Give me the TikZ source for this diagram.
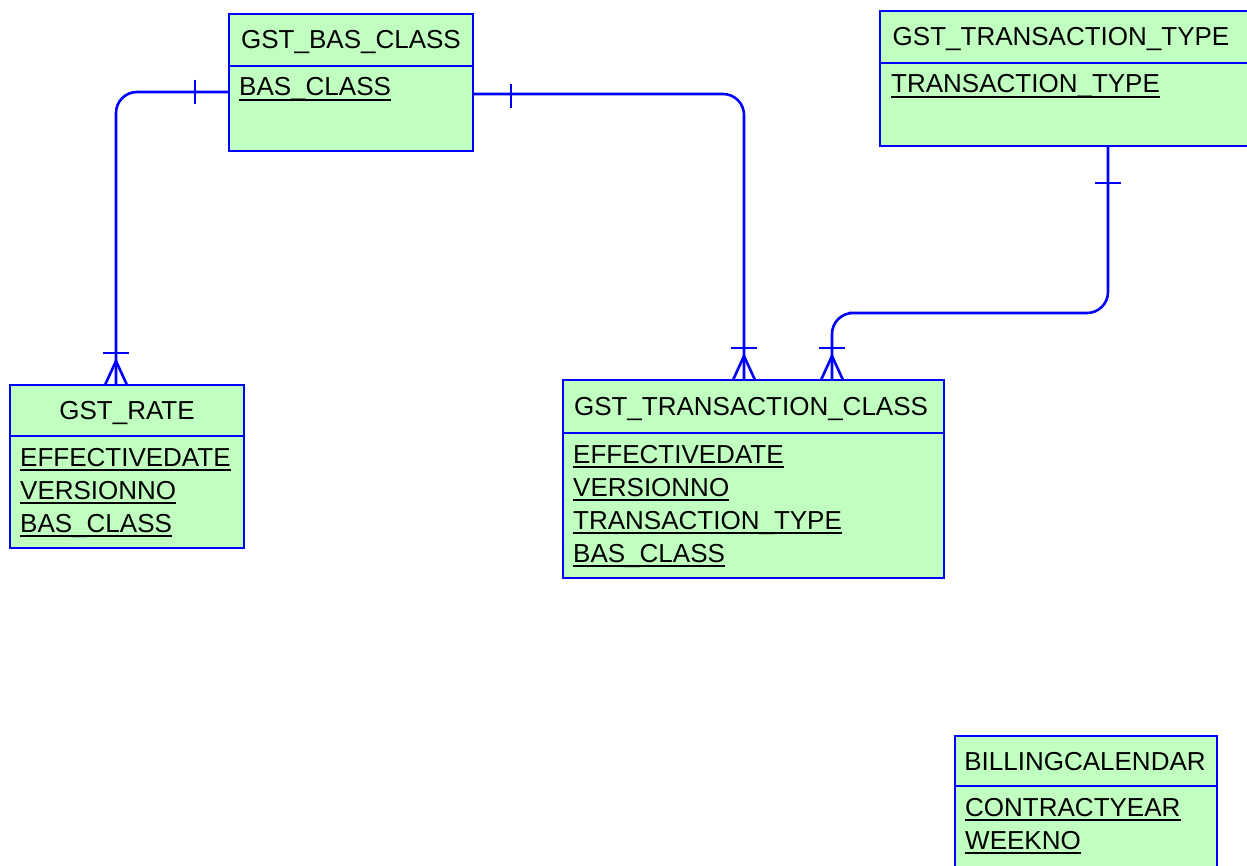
\documentclass[tikz,border=0pt]{standalone}
\usepackage{fontspec}
\setmainfont{Liberation Sans}
\usetikzlibrary{calc}
\definecolor{entfill}{HTML}{C0FFC0}
\definecolor{entblue}{HTML}{0000FF}
\tikzset{
  ent/.style={draw=entblue, fill=entfill, line width=2.8pt, rectangle, inner sep=0pt, outer sep=0pt},
  divl/.style={draw=entblue, line width=2.6pt},
  ttl/.style={anchor=base, inner sep=0pt, font=\fontsize{26}{30}\selectfont},
  fld/.style={anchor=base west, inner sep=0pt, font=\fontsize{26}{30}\selectfont},
  uline/.style={draw=black, line width=2.1pt},
  conn/.style={draw=entblue, line width=2.6pt},
}
\newcommand\fieldrow[4]{\node[fld] (#1) at (#2,#3) {#4};
  \draw[uline] ([yshift=-3.7pt]#1.base west) -- ([yshift=-3.7pt]#1.base east);}
\begin{document}
\begin{tikzpicture}[x=1pt,y=-1pt]
\useasboundingbox (0,0) rectangle (1247,866);
% GST_BAS_CLASS
\node[ent, minimum width=244pt, minimum height=137pt, anchor=north west] (bas) at (229,14) {};
\draw[divl] (229,66) -- (473,66);
\node[ttl] (basT) at (351,49) {GST\_BAS\_CLASS};
\fieldrow{basF1}{239}{96}{BAS\_CLASS}
% GST_TRANSACTION_TYPE
\node[ent, minimum width=370pt, minimum height=135pt, anchor=north west] (ttype) at (880,11) {};
\draw[divl] (880,63) -- (1250,63);
\node[ttl] (ttypeT) at (1061,46) {GST\_TRANSACTION\_TYPE};
\fieldrow{ttypeF1}{891}{93}{TRANSACTION\_TYPE}
% GST_RATE
\node[ent, minimum width=234pt, minimum height=163pt, anchor=north west] (rate) at (10,385) {};
\draw[divl] (10,436) -- (244,436);
\node[ttl] (rateT) at (127,419) {GST\_RATE};
\fieldrow{rateF1}{20}{466}{EFFECTIVEDATE}
\fieldrow{rateF2}{20}{499}{VERSIONNO}
\fieldrow{rateF3}{20}{532}{BAS\_CLASS}
% GST_TRANSACTION_CLASS
\node[ent, minimum width=381pt, minimum height=198pt, anchor=north west] (tclass) at (563,380) {};
\draw[divl] (563,433) -- (944,433);
\node[ttl] (tclassT) at (751,415) {GST\_TRANSACTION\_CLASS};
\fieldrow{tclassF1}{573}{463}{EFFECTIVEDATE}
\fieldrow{tclassF2}{573}{496}{VERSIONNO}
\fieldrow{tclassF3}{573}{529}{TRANSACTION\_TYPE}
\fieldrow{tclassF4}{573}{562}{BAS\_CLASS}
% BILLINGCALENDAR
\node[ent, minimum width=262pt, minimum height=150pt, anchor=north west] (bill) at (955,736) {};
\draw[divl] (955,786) -- (1217,786);
\node[ttl] (billT) at (1085,770) {BILLINGCALENDAR};
\fieldrow{billF1}{965}{816}{CONTRACTYEAR}
\fieldrow{billF2}{965}{849}{WEEKNO}
% connector end points
\coordinate (a1) at (bas.west |- 0,92);
\coordinate (b1) at (rate.north -| 116,0);
\coordinate (a2) at (bas.east |- 0,94);
\coordinate (b2) at (tclass.north -| 744,0);
\coordinate (a3) at (ttype.south -| 1108,0);
\coordinate (b3) at (tclass.north -| 832,0);
% connectors
\draw[conn, rounded corners=21pt] (a1) -| (b1);
\draw[conn, rounded corners=21pt] (a2) -| (b2);
\draw[conn, rounded corners=21pt] (a3) |- (870,313) -| (b3);
% one ticks
\draw[conn] ($(a1)+(-34,-12)$) -- ($(a1)+(-34,12)$);
\draw[conn] ($(a2)+(38,-10)$) -- ($(a2)+(38,14)$);
\draw[conn] ($(a3)+(-13,37)$) -- ($(a3)+(13,37)$);
% crow feet
\foreach \p in {b1,b2,b3}{
  \draw[conn] ($(\p)+(-11,0)$) -- ($(\p)+(0,-24)$) -- ($(\p)+(11,0)$);
  \draw[conn] ($(\p)+(-13,-32)$) -- ($(\p)+(13,-32)$);
}
\end{tikzpicture}
\end{document}
